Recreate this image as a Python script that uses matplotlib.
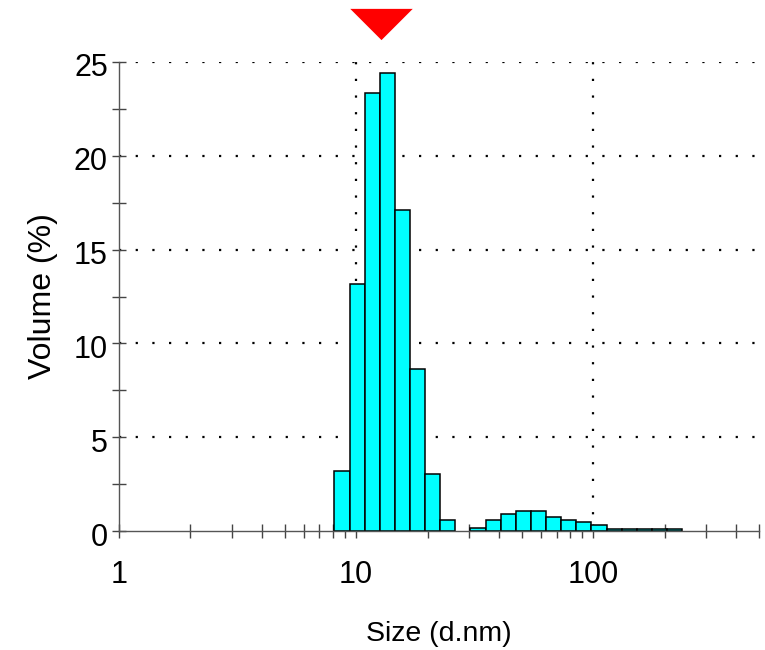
import numpy as np
import matplotlib
matplotlib.use('Agg')
import matplotlib.pyplot as plt
import matplotlib.transforms as mtransforms
from matplotlib.path import Path
from matplotlib.ticker import FixedLocator, LogLocator, NullFormatter

plt.rcParams['font.family'] = ['Liberation Sans', 'DejaVu Sans']

# Size classes (d.nm) and volume distribution (%)
sizes = [8.721, 10.10, 11.70, 13.54, 15.69, 18.17, 21.04, 24.36, 28.21, 32.67,
         37.84, 43.82, 50.75, 58.77, 68.06, 78.82, 91.28, 105.7, 122.4, 141.8,
         164.2, 190.1, 220.2]
volumes = [3.18, 13.18, 23.33, 24.40, 17.11, 8.62, 3.02, 0.59, 0.0, 0.14,
           0.59, 0.92, 1.07, 1.07, 0.75, 0.60, 0.46, 0.30, 0.12, 0.12,
           0.12, 0.12, 0.12]
peak_size = 12.7
x_ticks = [1, 10, 100]
x_ticklabels = ['1', '10', '100']
y_ticks = [0, 5, 10, 15, 20, 25]
y_minor = [2.5, 7.5, 12.5, 17.5, 22.5]

W, H = 765, 650
fig = plt.figure(figsize=(W / 100, H / 100), dpi=100)
ax = fig.add_axes([119 / W, 119 / H, 640 / W, 469 / H])

logs = np.log10(sizes)
step = np.mean(np.diff(logs))
lefts = 10 ** (logs - step / 2)
rights = 10 ** (logs + step / 2)
vol = np.array(volumes)
m = vol > 0
ax.bar(lefts[m], vol[m], width=(rights - lefts)[m], align='edge',
       color='#00FFFF', edgecolor='black', linewidth=1.1, zorder=2)

ax.set_xscale('log')
ax.set_xlim(1, 500)
ax.set_ylim(0, 25)

# dotted grid
dot = (0, (1, 6.5))
for yv in y_ticks[1:]:
    ax.axhline(yv, color='black', linestyle=dot, linewidth=1.6, zorder=1)
for xv in x_ticks[1:]:
    ax.axvline(xv, color='black', linestyle=dot, linewidth=1.6, zorder=1)

ax.xaxis.set_major_locator(FixedLocator(x_ticks))
ax.set_xticklabels(x_ticklabels)
ax.xaxis.set_minor_locator(LogLocator(base=10, subs=np.arange(2, 10)))
ax.xaxis.set_minor_formatter(NullFormatter())
ax.set_yticks(y_ticks)
ax.set_yticks(y_minor, minor=True)

for s in ['top', 'right']:
    ax.spines[s].set_visible(False)
for s in ['left', 'bottom']:
    ax.spines[s].set_color('#555555')
    ax.spines[s].set_linewidth(1.0)

ax.tick_params(which='both', direction='inout', length=10, width=1.0,
               color='#444444', labelsize=22)
ax.tick_params(axis='x', which='both', pad=16)
ax.tick_params(axis='y', which='both', pad=3)

off = mtransforms.ScaledTranslation(0, -0.03, fig.dpi_scale_trans)
for lab in ax.get_yticklabels():
    lab.set_transform(lab.get_transform() + off)

ax.set_xlabel('Size (d.nm)', fontsize=20.5, labelpad=22)
ax.set_ylabel('Volume (%)', fontsize=23, labelpad=11)

# peak marker (red downward triangle above the plot)
tri = Path([(-1, 0.5), (1, 0.5), (0, -0.5), (-1, 0.5)],
           [Path.MOVETO, Path.LINETO, Path.LINETO, Path.CLOSEPOLY])
ax.plot([peak_size], [1.082], marker=tri, markersize=45, color='red',
        markeredgewidth=0, linestyle='none',
        transform=ax.get_xaxis_transform(), clip_on=False, zorder=5)

fig.savefig('out.png', dpi=100)
